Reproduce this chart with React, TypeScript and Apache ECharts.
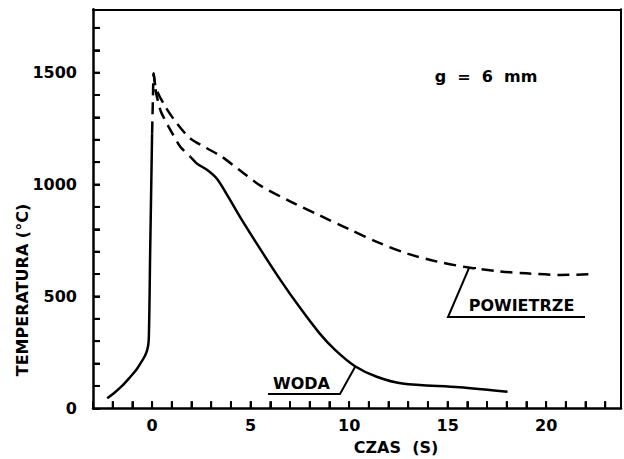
import React, { useEffect, useRef } from "react";
import * as echarts from "echarts";

// Rise (solid) – WODA, before quench
const riseTime = [-2.28, -1.94, -1.5, -1.1, -0.8, -0.59, -0.4, -0.25, -0.17, -0.1, 0];
const riseTemp = [45, 67, 102, 141, 172, 201, 228, 260, 306, 690, 1229];

// Dashed transition to peak and down the lower (WODA) branch
const transTime = [0, 0.04, 0.08, 0.2, 0.45, 0.84, 1.43, 1.94];
const transTemp = [1229, 1380, 1497, 1410, 1325, 1258, 1169, 1124];

// Cooling in water (solid)
const wodaTime = [1.94, 2.3, 2.8, 3.3, 3.8, 4.5, 5.5, 6.5, 7.5, 8.5, 9.3, 10.3, 11.4, 12.7, 15.6, 18.04];
const wodaTemp = [1124, 1092, 1065, 1025, 955, 850, 710, 575, 450, 335, 260, 188, 141, 111, 94, 74];

// Cooling in air (dashed)
const powTime = [0.08, 0.2, 0.67, 1.26, 1.94, 2.78, 3.54, 4.5, 5.5, 7.0, 8.5, 10.0, 11.5, 13.0, 14.5, 16.0, 17.5, 19.0, 20.7, 22.34];
const powTemp = [1497, 1430, 1348, 1273, 1206, 1162, 1124, 1060, 995, 925, 862, 800, 740, 690, 655, 630, 613, 603, 596, 599];

// Axis tick values
const xTickValues = [-2, -1, 0, 1, 2, 3, 4, 5, 6, 7, 8, 9, 10, 11, 12, 13, 14, 15, 16, 17, 18, 19, 20, 21, 22, 23];
const yTickValues = [100, 200, 300, 400, 500, 600, 700, 800, 900, 1000, 1100, 1200, 1300, 1400, 1500, 1600, 1700];

const X_MIN = -3;
const X_MAX = 23.8;
const X_LABEL_STEP = 5;
const Y_MIN = 0;
const Y_MAX = 1783;
const Y_LABEL_STEP = 500;

const GRID = { left: 93, top: 9.3, right: 2.3, bottom: 50.7 };
const W = 624;
const H = 459;

const FONT = '"DejaVu Sans"';
const TICK_LEN = 7;

const pairs = (xs: number[], ys: number[]) => xs.map((x, i) => [x, ys[i]]);

export default function App() {
  const ref = useRef<HTMLDivElement>(null);
  useEffect(() => {
    if (!ref.current) return;
    const chart = echarts.init(ref.current, undefined, { renderer: "svg", width: W, height: H });
    const lineBase = { type: "line", showSymbol: false, symbol: "none", animation: false, z: 3 };
    const textStyle = (text: string) => ({
      text,
      fontFamily: FONT,
      fontWeight: "bold",
      fontSize: 16,
      fill: "#000",
      align: "center",
      verticalAlign: "middle",
    });
    const labelBase = { color: "#000", fontFamily: FONT, fontWeight: "bold", fontSize: 16 };
    const frameAxis = {
      type: "value",
      axisLine: { show: true, onZero: false, lineStyle: { color: "#000", width: 2 } },
      axisTick: { show: false },
      axisLabel: { show: false },
      splitLine: { show: false },
    };
    chart.setOption({
      animation: false,
      backgroundColor: "#fff",
      grid: { ...GRID, show: false },
      xAxis: [
        {
          type: "value",
          position: "bottom",
          min: X_MIN,
          max: X_MAX,
          interval: 1,
          axisLine: { show: true, onZero: false, lineStyle: { color: "#000", width: 2.5 } },
          axisTick: { show: true, inside: true, length: TICK_LEN, lineStyle: { color: "#000", width: 2 } },
          axisLabel: {
            ...labelBase,
            interval: 0,
            margin: 9,
            formatter: (v: number) => (Math.abs(v % X_LABEL_STEP) < 1e-9 ? String(v) : ""),
          },
          splitLine: { show: false },
        },
        { ...frameAxis, position: "top", min: X_MIN, max: X_MAX },
      ],
      yAxis: [
        {
          type: "value",
          position: "left",
          min: Y_MIN,
          max: Y_MAX,
          interval: 100,
          axisLine: { show: true, onZero: false, lineStyle: { color: "#000", width: 2.5 } },
          axisTick: { show: true, inside: true, length: TICK_LEN, lineStyle: { color: "#000", width: 2 } },
          axisLabel: {
            ...labelBase,
            interval: 0,
            margin: 16,
            formatter: (v: number) => (Math.abs(v % Y_LABEL_STEP) < 1e-9 ? String(v) : ""),
          },
          splitLine: { show: false },
        },
        { ...frameAxis, position: "right", min: Y_MIN, max: Y_MAX },
      ],
      series: [
        {
          ...lineBase,
          name: "rise",
          data: pairs(riseTime, riseTemp),
          smooth: 0.3,
          lineStyle: { color: "#000", width: 2.5 },
        },
        {
          ...lineBase,
          name: "transition",
          data: pairs(transTime, transTemp),
          smooth: 0.2,
          lineStyle: { color: "#000", width: 2.5, type: [12, 7] },
        },
        {
          ...lineBase,
          name: "WODA",
          data: pairs(wodaTime, wodaTemp),
          smooth: 0.3,
          lineStyle: { color: "#000", width: 2.5 },
        },
        {
          ...lineBase,
          name: "POWIETRZE",
          data: pairs(powTime, powTemp),
          smooth: 0.3,
          lineStyle: { color: "#000", width: 2.5, type: [12, 7] },
        },
      ],
    });

    // Tick marks: position from the chart's scale, with a linear fallback from the same axis settings
    const plotW = W - GRID.left - GRID.right;
    const plotH = H - GRID.top - GRID.bottom;
    const toPx = (x: number, y: number): number[] => {
      let p: any = null;
      try {
        p = chart.convertToPixel({ xAxisIndex: 0, yAxisIndex: 0 } as any, [x, y]);
      } catch (e) {
        p = null;
      }
      if (p && p.length === 2 && isFinite(p[0]) && isFinite(p[1])) return [p[0], p[1]];
      return [
        GRID.left + ((x - X_MIN) / (X_MAX - X_MIN)) * plotW,
        GRID.top + plotH - ((y - Y_MIN) / (Y_MAX - Y_MIN)) * plotH,
      ];
    };
    const tickEls: any[] = [];
    xTickValues.forEach((v) => {
      const p = toPx(v, Y_MIN);
      tickEls.push({
        type: "rect",
        z: 100,
        silent: true,
        shape: { x: p[0] - 1, y: p[1] - TICK_LEN, width: 2, height: TICK_LEN },
        style: { fill: "#000" },
      });
    });
    yTickValues.forEach((v) => {
      const p = toPx(X_MIN, v);
      tickEls.push({
        type: "rect",
        z: 100,
        silent: true,
        shape: { x: p[0], y: p[1] - 1, width: TICK_LEN, height: 2 },
        style: { fill: "#000" },
      });
    });

    chart.setOption({
      graphic: [
        ...tickEls,
        { type: "text", x: 22.5, y: 290, rotation: Math.PI / 2, style: textStyle("TEMPERATURA (°C)") },
        { type: "text", x: 396, y: 447, style: textStyle("CZAS  (S)") },
        { type: "text", x: 486, y: 76, style: textStyle("g  =  6  mm") },
        { type: "text", x: 301.5, y: 383.5, style: textStyle("WODA") },
        {
          type: "polyline",
          shape: { points: [[268, 394], [340, 394], [355, 367]] },
          style: { stroke: "#000", lineWidth: 2, fill: "none" },
        },
        { type: "text", x: 521.5, y: 305, style: textStyle("POWIETRZE") },
        {
          type: "polyline",
          shape: { points: [[585, 317], [448, 317], [469, 268], [476, 268]] },
          style: { stroke: "#000", lineWidth: 2, fill: "none" },
        },
      ],
    });
    return () => chart.dispose();
  }, []);
  return (
    <div
      ref={ref}
      style={{ position: "fixed", left: 0, top: 0, width: W, height: H, background: "#fff" }}
    />
  );
}
